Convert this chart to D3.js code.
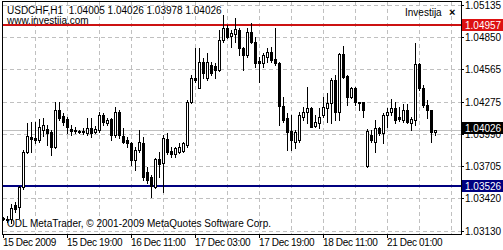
<!DOCTYPE html>
<html lang="en">
<head>
<meta charset="UTF-8">
<title>USDCHF,H1</title>
<style>
    body{margin:0;background:#fff;}
    svg text{font-family:"Liberation Sans",Arial,sans-serif;font-size:10px;fill:#000;}
</style>
</head>
<body>
<div id="chart"></div>
<script src="https://cdn.jsdelivr.net/npm/d3@7/dist/d3.min.js"></script>
<script>
// hourly candles
var opens=[1.03242,1.03233,1.03233,1.03358,1.03340,1.03518,1.03829,1.03962,1.03953,1.03935,
    1.04024,1.04033,1.04007,1.03873,1.04202,1.04149,1.04122,1.04033,1.04015,1.04015,
    1.04015,1.03998,1.04042,1.04007,1.04024,1.04158,1.04087,1.04122,1.03980,1.04184,
    1.03971,1.03935,1.03909,1.03758,1.03846,1.03909,1.03651,1.03606,1.03518,1.03766,
    1.03731,1.03944,1.03838,1.03811,1.03829,1.03838,1.03891,1.04273,1.04487,1.04398,
    1.04629,1.04487,1.04602,1.04593,1.04558,1.04824,1.04931,1.04860,1.04878,1.04913,
    1.04753,1.04691,1.04896,1.04807,1.04638,1.04620,1.04673,1.04718,1.04655,1.04620,
    1.04238,1.04131,1.04015,1.03918,1.03935,1.04140,1.04184,1.04220,1.04060,1.04087,
    1.04158,1.04220,1.04264,1.04469,1.04184,1.04700,1.04504,1.04318,1.04398,1.04273,
    1.04273,1.03704,1.03980,1.03918,1.04042,1.03998,1.04158,1.04184,1.04220,1.04140,
    1.04113,1.04202,1.04087,1.04113,1.04611,1.04398,1.04247,1.04202,1.04005];
var highs=[1.03251,1.03260,1.03366,1.03384,1.03526,1.03846,1.04087,1.04095,1.04095,1.04122,
    1.04131,1.04069,1.04024,1.04273,1.04273,1.04175,1.04140,1.04069,1.04051,1.04024,
    1.04042,1.04131,1.04131,1.04060,1.04184,1.04175,1.04131,1.04131,1.04229,1.04202,
    1.04042,1.03962,1.03918,1.03873,1.04024,1.03962,1.03695,1.03624,1.03775,1.03829,
    1.03980,1.03998,1.03873,1.03873,1.03909,1.03918,1.04291,1.04513,1.04753,1.04753,
    1.04664,1.04709,1.04629,1.04620,1.04913,1.05047,1.04958,1.04913,1.05020,1.04931,
    1.04762,1.04931,1.04976,1.04851,1.04673,1.04709,1.04753,1.04762,1.04931,1.04629,
    1.04318,1.04175,1.04158,1.04024,1.04184,1.04229,1.04407,1.04229,1.04158,1.04220,
    1.04318,1.04353,1.04487,1.04513,1.04709,1.04771,1.04513,1.04407,1.04407,1.04273,
    1.04273,1.04033,1.04024,1.04113,1.04051,1.04175,1.04220,1.04300,1.04273,1.04229,
    1.04255,1.04255,1.04140,1.04798,1.04620,1.04424,1.04291,1.04202,1.04026];
var lows=[1.03224,1.03206,1.03198,1.03295,1.03242,1.03500,1.03820,1.03829,1.03909,1.03918,
    1.03971,1.03891,1.03802,1.03864,1.04113,1.04069,1.03998,1.03980,1.03998,1.03998,
    1.03989,1.03980,1.03962,1.03998,1.04007,1.04069,1.04069,1.03935,1.03962,1.03953,
    1.03909,1.03873,1.03713,1.03669,1.03829,1.03580,1.03553,1.03429,1.03509,1.03606,
    1.03473,1.03811,1.03784,1.03784,1.03820,1.03829,1.03873,1.04264,1.04451,1.04398,
    1.04487,1.04469,1.04513,1.04487,1.04549,1.04807,1.04842,1.04762,1.04807,1.04691,
    1.04558,1.04673,1.04798,1.04584,1.04451,1.04584,1.04629,1.04629,1.04602,1.04069,
    1.04095,1.03846,1.03846,1.03864,1.03918,1.04113,1.04087,1.04051,1.04051,1.04042,
    1.04140,1.04095,1.04087,1.04113,1.04113,1.04487,1.04247,1.04309,1.04247,1.04202,
    1.04140,1.03695,1.03918,1.03829,1.03980,1.03909,1.04051,1.04158,1.04087,1.04104,
    1.04095,1.04087,1.04024,1.04069,1.04380,1.04229,1.04131,1.03918,1.03978];
var closes=[1.03233,1.03224,1.03331,1.03322,1.03518,1.03829,1.03971,1.03944,1.03935,1.04051,
    1.04069,1.03998,1.03873,1.04202,1.04131,1.04095,1.04051,1.04015,1.04024,1.04007,
    1.04007,1.04042,1.03998,1.04033,1.04158,1.04095,1.04113,1.03980,1.04184,1.03980,
    1.03918,1.03909,1.03758,1.03846,1.03918,1.03606,1.03580,1.03526,1.03766,1.03722,
    1.03953,1.03829,1.03811,1.03864,1.03873,1.03909,1.04273,1.04487,1.04469,1.04629,
    1.04531,1.04629,1.04531,1.04558,1.04824,1.04931,1.04851,1.04887,1.04922,1.04753,
    1.04691,1.04896,1.04807,1.04620,1.04620,1.04691,1.04718,1.04647,1.04620,1.04238,
    1.04113,1.04007,1.03935,1.04007,1.04158,1.04184,1.04220,1.04051,1.04095,1.04140,
    1.04229,1.04264,1.04469,1.04184,1.04700,1.04495,1.04318,1.04398,1.04273,1.04264,
    1.04202,1.04015,1.03935,1.04042,1.03998,1.04158,1.04184,1.04220,1.04113,1.04122,
    1.04202,1.04095,1.04122,1.04611,1.04398,1.04247,1.04202,1.04007,1.04026];

var priceTicks=[1.05135,1.04850,1.04565,1.04275,1.03990,1.03705,1.03420,1.03130];
var timeLabelBars=[0,16,32,48,64,80,96];
var timeLabels=["15 Dec 2009","15 Dec 19:00","16 Dec 11:00","17 Dec 03:00","17 Dec 19:00","18 Dec 11:00","21 Dec 01:00"];
var redLevel=1.04957, blueLevel=1.03526, bidPrice=1.04026;

var width=503, height=250;
var L=2, R=461, T=1, B=234;

var svg=d3.select("#chart").append("svg")
    .attr("width",width)
    .attr("height",height)
    .style("display","block");

svg.append("rect").attr("width",width).attr("height",height).attr("fill","#fff");

var x=d3.scaleLinear().domain([0,114]).range([3,459]);
var y=d3.scaleLinear().domain([1.03100,1.05162]).range([B,2]);
function py(v){ return Math.round(y(v)); }

// grid
var grid=svg.append("g").attr("stroke","#c0c0c0").attr("stroke-dasharray","4,3").attr("shape-rendering","crispEdges");
grid.selectAll(".hg").data(priceTicks).enter().append("line")
    .attr("x1",L+1).attr("x2",R)
    .attr("y1",function(d){return py(d)+0.5;})
    .attr("y2",function(d){return py(d)+0.5;});
grid.selectAll(".vg").data(d3.range(8,115,8)).enter().append("line")
    .attr("x1",function(d){return x(d)+0.5;})
    .attr("x2",function(d){return x(d)+0.5;})
    .attr("y1",T+1).attr("y2",B);

// bid line
svg.append("line")
    .attr("x1",L+1).attr("x2",R)
    .attr("y1",py(bidPrice)+0.5).attr("y2",py(bidPrice)+0.5)
    .attr("stroke","#c0c0c0");

// text
svg.append("text").attr("x",7).attr("y",14).style("white-space","pre")
    .text("USDCHF,H1  1.04005 1.04026 1.03978 1.04026");
svg.append("text").attr("x",7).attr("y",24).text("www.investija.com");
svg.append("text").attr("x",405).attr("y",16).attr("fill","#222").text("Investija");
svg.append("text").attr("x",449).attr("y",16).style("font-weight","bold").style("font-size","11px").text("×");
svg.append("text").attr("x",7).attr("y",227).text("ODL MetaTrader, © 2001-2009 MetaQuotes Software Corp.");

// level lines
svg.append("line").attr("x1",L+1).attr("x2",R)
    .attr("y1",y(redLevel)).attr("y2",y(redLevel))
    .attr("stroke","#cc1111").attr("stroke-width",2);
svg.append("line").attr("x1",L+1).attr("x2",R)
    .attr("y1",y(blueLevel)).attr("y2",y(blueLevel))
    .attr("stroke","#000080").attr("stroke-width",2);

// candles
var bars=d3.range(opens.length);
var cg=svg.append("g").attr("shape-rendering","crispEdges");
cg.selectAll(".wick").data(bars).enter().append("line")
    .attr("x1",function(i){return x(i)+0.5;})
    .attr("x2",function(i){return x(i)+0.5;})
    .attr("y1",function(i){return py(highs[i]);})
    .attr("y2",function(i){return py(lows[i])+1;})
    .attr("stroke","#000");
cg.selectAll(".body").data(bars).enter().append("rect")
    .attr("x",function(i){return closes[i]>=opens[i] ? x(i)-0.5 : x(i)-1;})
    .attr("y",function(i){
        var t=py(Math.max(opens[i],closes[i]));
        return closes[i]>=opens[i] ? t+0.5 : t;
    })
    .attr("width",function(i){return closes[i]>=opens[i] ? 2 : 3;})
    .attr("height",function(i){
        var h=py(Math.min(opens[i],closes[i]))-py(Math.max(opens[i],closes[i]));
        return closes[i]>=opens[i] ? Math.max(h,0) : Math.max(h+1,1);
    })
    .attr("fill",function(i){return closes[i]>=opens[i] ? "#fff" : "#000";})
    .attr("stroke",function(i){return closes[i]>=opens[i] ? "#000" : "none";});

// frame
svg.append("rect").attr("x",L+0.5).attr("y",T+0.5)
    .attr("width",R-L).attr("height",B-T)
    .attr("fill","none").attr("stroke","#000").attr("shape-rendering","crispEdges");

// price axis
var ya=svg.append("g");
ya.selectAll(".tk").data(priceTicks).enter().append("line")
    .attr("x1",R).attr("x2",R+3)
    .attr("y1",function(d){return py(d)+0.5;})
    .attr("y2",function(d){return py(d)+0.5;})
    .attr("stroke","#000");
ya.selectAll(".tl").data(priceTicks).enter().append("text")
    .attr("x",R+4)
    .attr("y",function(d){return py(d)+4;})
    .text(function(d){return d.toFixed(5);});

// price labels
var marks=[{v:redLevel,bg:"#dd1111",dy:0},{v:blueLevel,bg:"#000080",dy:0},{v:bidPrice,bg:"#000",dy:-2}];
marks.forEach(function(m){
    var cy=py(m.v)+m.dy;
    svg.append("rect").attr("x",R+1).attr("y",cy-6).attr("width",width-R-1).attr("height",12).attr("fill",m.bg);
    svg.append("text").attr("x",R+4).attr("y",cy+4).style("fill","#fff").text(m.v.toFixed(5));
});

// time axis
var xa=svg.append("g");
xa.selectAll(".tk").data(timeLabelBars).enter().append("line")
    .attr("x1",function(d){return x(d)+0.5;})
    .attr("x2",function(d){return x(d)+0.5;})
    .attr("y1",B).attr("y2",B+4)
    .attr("stroke","#000");
xa.selectAll(".tl").data(timeLabelBars).enter().append("text")
    .attr("x",function(d){return x(d);})
    .attr("y",246)
    .style("letter-spacing","-0.35px")
    .text(function(d,i){return timeLabels[i];});
</script>
</body>
</html>
